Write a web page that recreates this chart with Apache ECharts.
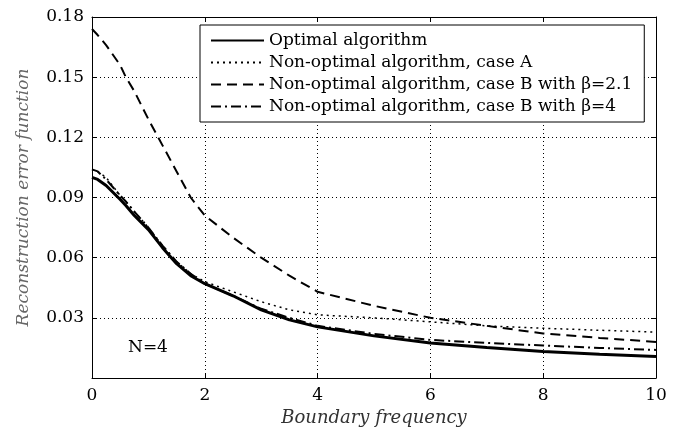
<!DOCTYPE html>
<html>
<head>
<meta charset="utf-8">
<script src="https://cdn.jsdelivr.net/npm/echarts@6/dist/echarts.min.js"></script>
<style>
  html, body { margin: 0; padding: 0; background: #fff; }
  #chart { width: 681px; height: 427px; }
</style>
</head>
<body>
<div id="chart"></div>
<script>
// values
const freq = [0, 0.1, 0.25, 0.5, 0.6, 0.75, 1, 1.25, 1.5, 1.75, 2, 2.5, 3, 3.5, 4, 5, 6, 7, 8, 9, 10]
const optimal = [0.100, 0.099, 0.096, 0.089, 0.086, 0.081, 0.074, 0.065, 0.057, 0.051, 0.047, 0.041, 0.034, 0.029, 0.0255, 0.021, 0.0175, 0.0152, 0.0132, 0.0118, 0.0107]
const caseA = [0.104, 0.103, 0.100, 0.091, 0.088, 0.083, 0.075, 0.066, 0.058, 0.052, 0.048, 0.043, 0.038, 0.034, 0.0315, 0.030, 0.028, 0.026, 0.0248, 0.0238, 0.0229]
const caseB21 = [0.174, 0.171, 0.166, 0.156, 0.150, 0.143, 0.129, 0.116, 0.103, 0.090, 0.081, 0.070, 0.060, 0.051, 0.043, 0.036, 0.030, 0.026, 0.0222, 0.020, 0.018]
const caseB4 = [0.104, 0.103, 0.099, 0.091, 0.088, 0.083, 0.075, 0.066, 0.058, 0.052, 0.047, 0.041, 0.0345, 0.030, 0.026, 0.022, 0.019, 0.0175, 0.0162, 0.015, 0.014]
const names = [
  'Optimal algorithm',
  'Non-optimal algorithm, case A',
  'Non-optimal algorithm, case B with \u03b2=2.1',
  'Non-optimal algorithm, case B with \u03b2=4'
]

const font = 'DejaVu Serif'
const pair = (vals) => freq.map((x, i) => [x, vals[i]])

const chart = echarts.init(document.getElementById('chart'))

const gridLine = { show: true, lineStyle: { color: '#000', type: [1, 3], width: 1 } }
const tickIn = { show: true, inside: true, length: 5, lineStyle: { color: '#000' } }
const axisLine = { show: true, onZero: false, lineStyle: { color: '#000', width: 1 } }

const lineSeries = (name, vals, style) => ({
  name: name,
  type: 'line',
  data: pair(vals),
  showSymbol: false,
  symbol: 'none',
  smooth: false,
  lineStyle: Object.assign({ color: '#000' }, style),
  itemStyle: { color: '#000' },
  z: 5
})

chart.setOption({
  animation: false,
  backgroundColor: '#fff',
  grid: { left: 92, top: 17, right: 25, bottom: 49, containLabel: false, outerBoundsMode: 'none' },
  legend: {
    left: 200,
    top: 25,
    orient: 'vertical',
    backgroundColor: '#fff',
    borderColor: '#000',
    borderWidth: 1,
    padding: [7, 12, 7, 10],
    itemGap: 5,
    itemWidth: 53,
    itemHeight: 14,
    itemStyle: { opacity: 0 },
    textStyle: { fontFamily: font, fontSize: 17, color: '#000' },
    data: names
  },
  graphic: [{
    type: 'text',
    left: 128,
    top: 339,
    style: { text: 'N=4', fontFamily: font, fontSize: 17, fill: '#000' }
  }],
  xAxis: [{
    type: 'value',
    min: 0,
    max: 10,
    interval: 2,
    name: 'Boundary frequency',
    nameLocation: 'middle',
    nameGap: 28,
    nameTextStyle: { fontFamily: font, fontSize: 18, fontStyle: 'italic', color: '#333' },
    axisLine: axisLine,
    axisTick: tickIn,
    splitLine: gridLine,
    axisLabel: { fontFamily: font, fontSize: 17, color: '#000', margin: 9 }
  }, {
    type: 'value',
    position: 'top',
    min: 0,
    max: 10,
    interval: 2,
    axisLine: axisLine,
    axisTick: tickIn,
    splitLine: { show: false },
    axisLabel: { show: false }
  }],
  yAxis: [{
    type: 'value',
    min: 0,
    max: 0.18,
    interval: 0.03,
    name: 'Reconstruction error function',
    nameLocation: 'middle',
    nameGap: 60,
    nameTextStyle: { fontFamily: font, fontSize: 17, fontStyle: 'italic', color: '#666' },
    axisLine: axisLine,
    axisTick: tickIn,
    splitLine: gridLine,
    axisLabel: {
      fontFamily: font,
      fontSize: 17,
      color: '#000',
      margin: 8,
      formatter: (v) => (v === 0 ? '' : v.toFixed(2))
    }
  }, {
    type: 'value',
    position: 'right',
    min: 0,
    max: 0.18,
    interval: 0.03,
    axisLine: axisLine,
    axisTick: tickIn,
    splitLine: { show: false },
    axisLabel: { show: false }
  }],
  series: [
    lineSeries(names[0], optimal, { width: 3, type: 'solid' }),
    lineSeries(names[1], caseA, { width: 1.5, type: [2, 4] }),
    lineSeries(names[2], caseB21, { width: 2, type: [10, 6] }),
    lineSeries(names[3], caseB4, { width: 2, type: [10, 4, 2, 4] })
  ]
})
</script>
</body>
</html>
